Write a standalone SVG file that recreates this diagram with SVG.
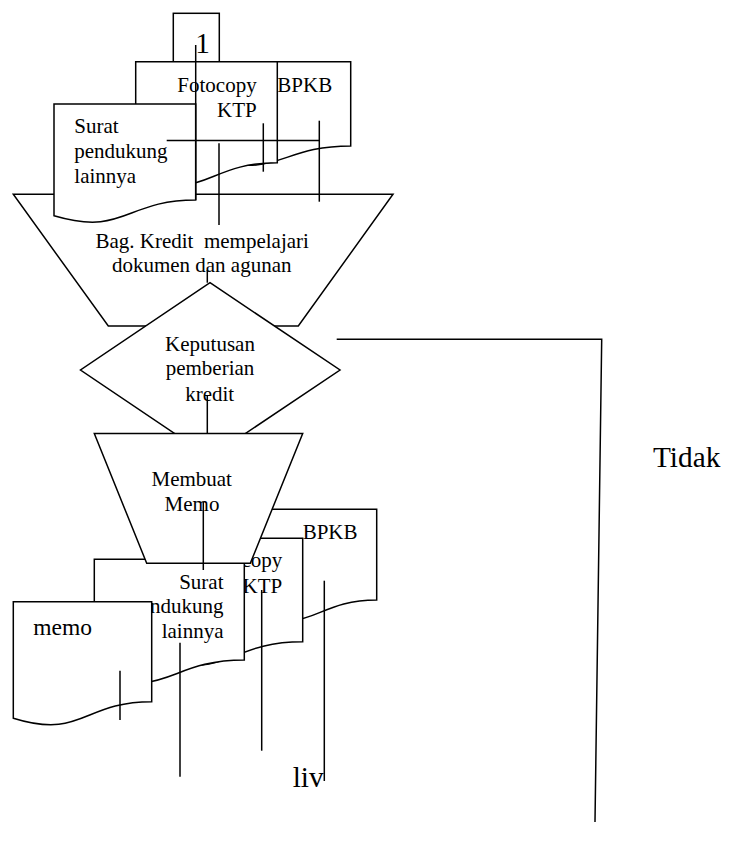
<svg xmlns="http://www.w3.org/2000/svg" width="733" height="841" viewBox="0 0 733 841">
<style>
.s{fill:#fff;stroke:#000;stroke-width:1.5}
.c{fill:none;stroke:#000;stroke-width:1.5}
text{font-family:"Liberation Serif","Times New Roman",serif;fill:#000;font-size:21px;white-space:pre}
.big{font-size:29.3px}
.m{text-anchor:middle}
.e{text-anchor:end}
</style>
<rect width="733" height="841" fill="#fff"/>
<g id="box1">
<rect class="s" x="173.3" y="13.3" width="46" height="60"/>
<text class="big m" x="202.5" y="53.3">1</text>
</g>
<g id="proses-kredit">
<polygon class="s" points="13.3,194.3 393,194.3 298.3,326 108.3,326"/>
<text class="m" x="202.2" y="248" xml:space="preserve">Bag. Kredit  mempelajari</text>
<text class="m" x="201.7" y="272">dokumen dan agunan</text>
</g>
<g id="doc-bpkb-1">
<path class="s" d="M210,61.7 H350.7 V145.9 C280.35,145.9 280.35,177.9 210,159.8 Z"/>
<text x="277.3" y="91.7">BPKB</text>
</g>
<g id="doc-ktp-1">
<path class="s" d="M135.7,61.7 H277.3 V162.75 C206.5,162.75 206.5,201.2 135.7,179.4 Z"/>
<text class="e" x="256.7" y="91.7">Fotocopy</text>
<text class="e" x="256.7" y="116.7">KTP</text>
</g>
<g id="doc-surat-1">
<path class="s" d="M54,104 H195.7 V200 C124.85,200 124.85,236.5 54,215.8 Z"/>
<text x="74.3" y="133.3">Surat</text>
<text x="74.3" y="158">pendukung</text>
<text x="74.3" y="182.7">lainnya</text>
</g>
<g id="keputusan">
<polygon class="s" points="210,282.7 340,370 210,457.3 80.5,370"/>
<text class="m" x="210" y="350.7">Keputusan</text>
<text class="m" x="210" y="375">pemberian</text>
<text class="m" x="209.7" y="400.5">kredit</text>
</g>
<g id="doc-bpkb-2">
<path class="s" d="M251.7,509.3 H376.7 V600 C314.2,600 314.2,634.5 251.7,614.9 Z"/>
<text x="302.7" y="539">BPKB</text>
</g>
<g id="doc-ktp-2">
<path class="s" d="M152.7,538.3 H302.7 V641.7 C227.7,641.7 227.7,681 152.7,658.7 Z"/>
<text class="e" x="282.3" y="566.7">Fotocopy</text>
<text class="e" x="282.3" y="593.3">KTP</text>
</g>
<g id="doc-surat-2">
<path class="s" d="M94.3,559.3 H244.3 V660 C169.3,660 169.3,698.3 94.3,676.6 Z"/>
<text class="e" x="223.5" y="589">Surat</text>
<text class="e" x="223.5" y="613.3">pendukung</text>
<text class="e" x="223.5" y="638">lainnya</text>
</g>
<g id="doc-memo">
<path class="s" d="M13.3,601.7 H151.7 V701.7 C82.5,701.7 82.5,739.7 13.3,718.2 Z"/>
<text x="33.3" y="635" style="font-size:23.5px">memo</text>
</g>
<g id="membuat-memo">
<polygon class="s" points="94.3,433.5 302.7,433.5 250.3,563.3 146.7,563.3"/>
<text class="m" x="191.7" y="486">Membuat</text>
<text class="m" x="192" y="510.7">Memo</text>
</g>
<g id="connectors">
<line class="c" x1="195.7" y1="45" x2="195.7" y2="200"/>
<line class="c" x1="166.7" y1="140.5" x2="319.3" y2="140.5"/>
<line class="c" x1="263.3" y1="123.3" x2="263.3" y2="171.7"/>
<line class="c" x1="319.3" y1="120.7" x2="319.3" y2="201.7"/>
<line class="c" x1="219" y1="143.3" x2="219" y2="225"/>
<line class="c" x1="207.3" y1="270" x2="207.3" y2="282.7"/>
<line class="c" x1="207.3" y1="396" x2="207.3" y2="433.5"/>
<polyline class="c" points="336.7,339.3 601.7,339.3 595,822"/>
<line class="c" x1="203.3" y1="501.7" x2="203.3" y2="570"/>
<line class="c" x1="120" y1="670.7" x2="120" y2="720"/>
<line class="c" x1="180" y1="642.7" x2="180" y2="776.7"/>
<line class="c" x1="261.7" y1="590" x2="261.7" y2="750.7"/>
<line class="c" x1="324.3" y1="580.7" x2="324.3" y2="781"/>
</g>
<g id="labels">
<text class="big" x="653" y="466.7">Tidak</text>
<text class="big" x="292.7" y="786.7">liv</text>
</g>
</svg>
